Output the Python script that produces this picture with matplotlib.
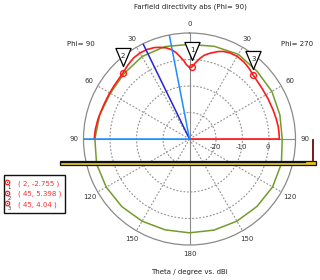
import numpy as np
import matplotlib
matplotlib.use("Agg")
import matplotlib.pyplot as plt
from matplotlib.patches import Rectangle
from matplotlib.lines import Line2D
from matplotlib.path import Path
from matplotlib.transforms import ScaledTranslation

# ---------------- data ----------------
title = "Farfield directivity abs (Phi= 90)"
xlabel = "Theta / degree vs. dBi"
r_min, r_max = -30, 10
r_grid = [-20, -10, 0]
angle_ticks = [0, 30, 60, 90, 120, 150, 180]

# Phi = 90 cut (left half), theta in degree, directivity in dBi
red_phi90_theta = [0, 1, 2.5, 4, 6.8, 9, 11.4, 14, 17.9, 21, 25.5, 30, 34.6, 40, 45,
                   50, 54.7, 61, 67, 73, 78, 84, 88, 90]
red_phi90_val = [-3.0, -2.6, -1.85, -0.5, 1.45, 3.1, 4.35, 5.4, 6.35, 6.95, 7.4, 7.45,
                 7.15, 6.3, 5.398, 5.0, 4.85, 4.75, 4.8, 5.0, 5.35, 5.7, 5.85, 5.9]
# Phi = 270 cut (right half)
red_phi270_theta = [0, 1, 2, 4.2, 7.4, 10, 13.5, 18, 21, 25, 30, 35, 40, 45, 50, 56,
                    63, 71, 77, 82, 86, 90]
red_phi270_val = [-3.0, -2.95, -2.755, -1.3, 0.7, 2.1, 3.3, 4.7, 5.4, 5.9, 6.0, 5.6,
                  4.9, 4.04, 3.6, 3.35, 3.3, 3.4, 3.6, 3.8, 3.85, 3.9]

# second (green) curve, plot angle clockwise from top, degree
green_angle = [0, 15, 30, 45, 60, 75, 90, 105, 120, 135, 150, 165, 180, 195, 210,
               225, 240, 255, 270, 285, 300, 315, 330, 345, 360]
green_val = [5.7, 6.2, 6.9, 6.1, 5.9, 5.3, 5.0, 5.9, 6.2, 6.0, 5.8, 5.6, 5.4, 5.5,
             5.8, 6.1, 6.3, 6.3, 5.7, 5.1, 4.5, 4.9, 5.9, 6.1, 5.7]

main_lobe_dir = -26        # dark blue (Phi=90 side)
width_dirs = [-11, -90]    # light blue

marker_ids = ["1", "2", "3"]
marker_theta = [2, 45, 45]
marker_side = [1, -1, 1]   # +1 -> Phi=270 (right), -1 -> Phi=90 (left)
marker_val = [-2.755, 5.398, 4.04]

# ---------------- layout ----------------
W, H = 320, 280
cx, cy, R = 189.5, 139, 106
fx = lambda px: px / W
fy = lambda py: 1 - py / H

fig = plt.figure(figsize=(3.2, 2.8), dpi=100)
fig.patch.set_facecolor("white")
ax = fig.add_axes([fx(cx - R), fy(cy + R), 2 * R / W, 2 * R / H], projection="polar")
ax.set_theta_zero_location("N")
ax.set_theta_direction(-1)
ax.set_rlim(r_min, r_max)
ax.set_xticks([])
ax.set_yticks([])
ax.grid(False)
ax.spines["polar"].set_color("#8a8a8a")
ax.spines["polar"].set_linewidth(0.9)

grey = "#8a8a8a"
full = np.deg2rad(np.arange(0, 361, 1))
for v in r_grid:
    ax.plot(full, np.full_like(full, v), color="#909090", lw=0.8,
            ls=(0, (1.6, 1.6)), zorder=1)
for a in [30, 60, 120, 150, 210, 240, 300, 330]:
    ax.plot([np.deg2rad(a)] * 2, [r_min, r_max], color="#909090", lw=0.8,
            ls=(0, (1.6, 1.6)), zorder=1)
for a in [0, 90, 180, 270]:
    ax.plot([np.deg2rad(a)] * 2, [r_min, r_max], color=grey, lw=0.8, zorder=1)

# green curve
ax.plot(np.deg2rad(green_angle), green_val, color="#739c2c", lw=1.1, zorder=2)

# red curve (left half from 90 to 0, then right half 0 to 90)
ang = [-t for t in red_phi90_theta[::-1]] + red_phi270_theta
val = red_phi90_val[::-1] + red_phi270_val
ax.plot(np.deg2rad(ang), val, color="#ff1a1a", lw=1.2, zorder=3)
ax.plot([np.deg2rad(90)] * 2, [r_min, red_phi270_val[-1]], color="#ff1a1a", lw=1.2, zorder=3)

# lobe lines
ax.plot([np.deg2rad(main_lobe_dir)] * 2, [r_min, r_max], color="#2424d6", lw=1.1, zorder=4)
for d in width_dirs:
    ax.plot([np.deg2rad(d)] * 2, [r_min, r_max], color="#1e8cff", lw=1.1, zorder=4)

# markers
m_ang = np.deg2rad([s * t for s, t in zip(marker_side, marker_theta)])
ax.plot(m_ang, marker_val, "o", mfc="none", mec="#ff1a1a", mew=1.0, ms=4.2, zorder=6)
tri = Path([(-0.42, 0.5), (0.42, 0.5), (0.0, -0.5), (-0.42, 0.5)],
           [Path.MOVETO, Path.LINETO, Path.LINETO, Path.CLOSEPOLY])
off = ax.transData + ScaledTranslation(0, 0.155, fig.dpi_scale_trans)
ax.plot(m_ang, marker_val, linestyle="none", marker=tri, ms=13, mfc="white",
        mec="black", mew=0.9, transform=off, zorder=7, clip_on=False)
off_t = ax.transData + ScaledTranslation(0, 0.165, fig.dpi_scale_trans)
for a, v, n in zip(m_ang, marker_val, marker_ids):
    ax.text(a, v, n, transform=off_t, ha="center", va="center", fontsize=5,
            color="#222222", zorder=8, clip_on=False)

# angle labels
lab_r = r_min + 115.5 / R * (r_max - r_min)
for t in angle_ticks:
    for s in ([1] if t in (0, 180) else [1, -1]):
        ax.text(np.deg2rad(s * t), lab_r, str(t), ha="center", va="center",
                fontsize=5, color="#333333", clip_on=False)

# radial labels
for v in r_grid:
    ax.annotate(str(v), xy=(np.deg2rad(90), v), xytext=(-0.8, -6.0),
                textcoords="offset points", ha="center", va="center",
                fontsize=5, color="#333333", annotation_clip=False)

# texts
fig.text(fx(190.5), fy(6.3), title, ha="center", va="center", fontsize=5, color="#222222")
fig.text(fx(189), fy(271.7), xlabel, ha="center", va="center", fontsize=5, color="#222222")
fig.text(fx(80.5), fy(43.5), "Phi= 90", ha="center", va="center", fontsize=5, color="#222222")
fig.text(fx(296.7), fy(43.5), "Phi= 270", ha="center", va="center", fontsize=5, color="#222222")

# structure overlay (yellow band and feed)
fig.add_artist(Rectangle((fx(60), fy(164.5)), fx(316) - fx(60), fy(161) - fy(164.5),
                         transform=fig.transFigure, facecolor="#e6c81c",
                         edgecolor="#111111", lw=0.9, zorder=10))
fig.add_artist(Line2D([fx(61), fx(305)], [fy(161.6)] * 2, transform=fig.transFigure,
                      color="#111111", lw=0.9, zorder=11))
fig.add_artist(Line2D([fx(312.5)] * 2, [fy(140), fy(161)], transform=fig.transFigure,
                      color="#6a0a0a", lw=1.3, zorder=10))

# marker table
fig.add_artist(Rectangle((fx(3.5), fy(213)), fx(64.5) - fx(3.5), fy(174.5) - fy(213),
                         transform=fig.transFigure, facecolor="white",
                         edgecolor="#111111", lw=1.0, zorder=10))
row_y = [183.3, 194.0, 204.3]
for n, t, v, y in zip(marker_ids, marker_theta, marker_val, row_y):
    fig.add_artist(Line2D([fx(6.7)], [fy(y - 1.5)], transform=fig.transFigure,
                          marker="o", mfc="none", mec="#ff1a1a", mew=0.9, ms=3.2, zorder=11))
    fig.add_artist(Line2D([fx(6.7)], [fy(y - 1.5)], transform=fig.transFigure,
                          marker="o", mfc="#ff1a1a", mec="none", ms=1.0, zorder=11))
    fig.text(fx(9.0), fy(y + 4.3), n, ha="center", va="center", fontsize=3.8,
             color="#333333", zorder=11)
    fig.text(fx(18.5), fy(y), f"( {t}, {v} )", ha="left", va="center", fontsize=5,
             color="#ff2a2a", zorder=11)

fig.savefig("out.png", dpi=100, facecolor="white")
